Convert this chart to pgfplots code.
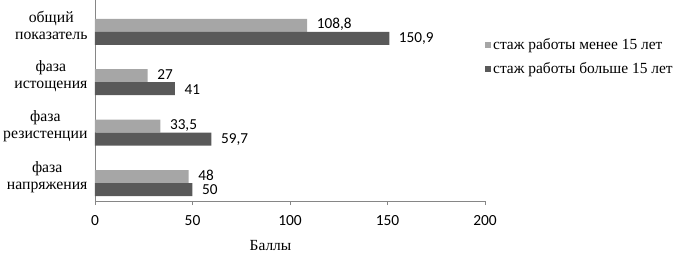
\documentclass[border=0pt]{standalone}
\usepackage{pgfplots}
\pgfplotsset{compat=1.18}
\usepackage{fontspec}
\setmainfont{Liberation Serif}
\newfontfamily\calfont{Carlito}
\definecolor{light}{RGB}{166,166,166}
\definecolor{dark}{RGB}{89,89,89}
\definecolor{axgray}{RGB}{134,134,134}
\begin{document}
\begin{tikzpicture}
\begin{axis}[
  at={(0,0)}, anchor=south west,
  scale only axis, width=390bp, height=201bp,
  xmin=0, xmax=200, ymin=-0.357, ymax=3.63,
  xbar, bar width=13bp,
  axis lines*=left, axis line style={axgray, -},
  xtick={0,50,100,150,200}, tick align=outside, xtick style={axgray}, major tick length=4bp,
  ytick={0,1,2,3}, ytick style={draw=none},
  yticklabels={{фаза\\напряжения},{фаза\\резистенции},{фаза\\истощения},{общий\\показатель}},
  yticklabel style={align=center, font=\fontsize{15.8}{17}\selectfont, yshift=6bp},
  xticklabel style={font=\calfont\fontsize{15.5}{17}\selectfont, yshift=-7bp},
  /pgf/number format/assume math mode=true,
  xlabel={Баллы},
  xlabel style={at={(rel axis cs:0.45,0)}, anchor=base, yshift=-49bp, font=\fontsize{15.5}{17}\selectfont},
  point meta=x,
  nodes near coords={\pgfmathprintnumber[use comma]{\pgfplotspointmeta}},
  nodes near coords style={font=\calfont\fontsize{15.3}{17}\selectfont, anchor=west, inner sep=0.5bp, xshift=9bp, text=black},
  legend style={draw=none, fill=none, at={(1,0.82)}, anchor=north west, font=\fontsize{15.5}{17}\selectfont, row sep=8bp, inner sep=0pt},
  legend cell align=left,
]
\addplot[fill=light, draw=none, bar shift=6.5bp,
  nodes near coords style={yshift=1bp},
  legend image code/.code={\fill[light] (0bp,-3bp) rectangle (6bp,3bp);}]
  coordinates {(48,0) (33.5,1) (27,2) (108.8,3)};
\addlegendentry{стаж работы менее 15 лет}
\addplot[fill=dark, draw=none, bar shift=-6.5bp,
  nodes near coords style={yshift=-0.5bp},
  legend image code/.code={\fill[dark] (0bp,-3bp) rectangle (6bp,3bp);}]
  coordinates {(50,0) (59.7,1) (41,2) (150.9,3)};
\addlegendentry{стаж работы больше 15 лет}
\end{axis}
\pgfresetboundingbox
\path (-95bp,-55bp) rectangle (579bp,201bp);
\end{tikzpicture}
\end{document}
